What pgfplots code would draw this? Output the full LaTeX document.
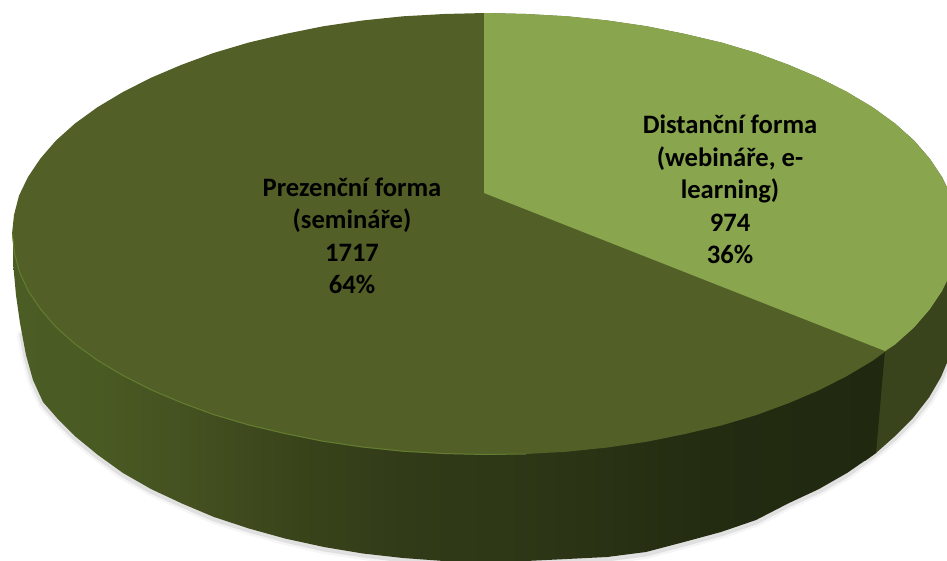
\documentclass[border=0pt]{standalone}
\usepackage{pgfplots}
\pgfplotsset{compat=1.18}
\usepackage{fontspec}
\setmainfont{Carlito}
\definecolor{topdark}{HTML}{526027}
\definecolor{toplight}{HTML}{89A54E}
\definecolor{sideright}{HTML}{3A441C}
\definecolor{edgehi}{HTML}{6C8A35}
\pgfdeclarehorizontalshading{sideshade}{100bp}{
 rgb(0bp)=(0.294,0.361,0.141);
 rgb(25bp)=(0.294,0.361,0.141);
 rgb(30bp)=(0.290,0.353,0.137);
 rgb(35.8bp)=(0.263,0.310,0.125);
 rgb(41.6bp)=(0.220,0.263,0.102);
 rgb(47.4bp)=(0.196,0.231,0.094);
 rgb(53.2bp)=(0.180,0.216,0.086);
 rgb(59bp)=(0.161,0.196,0.078);
 rgb(64.9bp)=(0.137,0.169,0.067);
 rgb(75bp)=(0.125,0.157,0.059);
 rgb(100bp)=(0.125,0.157,0.059)}
\begin{document}
\begin{tikzpicture}
\path[use as bounding box] (0,0) rectangle (947pt,560pt);
\begin{axis}[
  at={(0,0)}, anchor=south west,
  scale only axis, width=947pt, height=560pt,
  xmin=0, xmax=947, ymin=0, ymax=560, y dir=reverse,
  axis lines=none, clip=true, no markers,
  /tikz/every node/.append style={font=\fontsize{26.6}{32.5}\selectfont\bfseries, align=center, text=black}
]
% soft shadow along the outer outline
\addplot[draw=gray, opacity=0.08, line width=10pt, line join=round, line cap=round] coordinates {
(22,335)(26,357)(33,382)(43,404)(57,420)(76,439)(98,457)(123,475)(151,491)(182,505)(214,519)(249,530)(285,540)(324,549)(363,555)(403,560)(444,563)(485,564)(526,563)(567,561)(607,559)(646,554)(684,544)(721,534)(756,522)(788,505)(819,491)(847,475)(872,457)(894,439)(913,420)(929,400)(941,379)(950,357)};
\addplot[draw=gray, opacity=0.18, line width=5pt, line join=round, line cap=round] coordinates {
(22,335)(26,357)(33,382)(43,404)(57,420)(76,439)(98,457)(123,475)(151,491)(182,505)(214,519)(249,530)(285,540)(324,549)(363,555)(403,560)(444,563)(485,564)(526,563)(567,561)(607,559)(646,554)(684,544)(721,534)(756,522)(788,505)(819,491)(847,475)(872,457)(894,439)(913,420)(929,400)(941,379)(950,357)};
% side of the small slice (drawn first, runs under the large slice's edge)
\addplot[draw=none, fill=sideright] coordinates {
(870,350)(865,461)(876,453)(894,437)(913,418)(929,397.5)(941,377)(950,355.5)(956,300)(958,234)(870,350)};
% side of the large slice
\addplot[draw=none, shade, shading=sideshade] coordinates {
(13,234)(13,262)(16,295)(20,323)(26,355)(33,380)(43,402)(57,418)(76,437)(98,455)(123,473)(151,489)(182,503.5)(214,517)(249,528.5)(285,538.5)(324,547)(363,553.5)(403,558)(444,561)(485,562)(526,561)(567,559)(607,557)(646,552)(684,542)(721,532)(756,520)(788,503.5)(819,489)(847,473)(876,453)(885,350)(13,234)};
% top face: whole ellipse
\addplot[draw=none, fill=topdark] coordinates {
(958,234)(956,253)(951,272.4)(942,291)(929.5,309.6)(914,327.5)(895,344.5)(872.5,360.8)(847,376)(819.5,390)(789,403)(756.5,415)(721.5,425.4)(685,434)(647,441.7)(607.5,447.5)(567,451.7)(526,454)(485,455)(444,454)(403,451.7)(362.5,447.5)(323,441.7)(285,434)(248.5,425.4)(213.5,415)(181,403)(150.5,390)(123,376)(97.5,360.8)(75,344.5)(56,327.5)(40.5,309.6)(28,291)(19,272.4)(14,253)(12,234)(14,215)(19,195.6)(28,177)(40.5,158.4)(56,140.5)(75,123.5)(97.5,107.2)(123,92)(150.5,78)(181,65)(213.5,53)(248.5,42.6)(285,34)(323,26.3)(362.5,20.5)(403,16.3)(444,14)(485,13)(526,14)(567,16.3)(607.5,20.5)(647,26.3)(685,34)(721.5,42.6)(756.5,53)(789,65)(819.5,78)(847,92)(872.5,107.2)(895,123.5)(914,140.5)(929.5,158.4)(942,177)(951,195.6)(956,215)(958,234)};
% top face: small slice
\addplot[draw=none, fill=toplight] coordinates {
(484,193)(484,13)(526,14)(567,16.3)(607.5,20.5)(647,26.3)(685,34)(721.5,42.6)(756.5,53)(789,65)(819.5,78)(847,92)(872.5,107.2)(895,123.5)(914,140.5)(929.5,158.4)(942,177)(951,195.6)(956,215)(958,234)(956,253)(951,272.4)(942,291)(929.5,309.6)(914,327.5)(895,344.5)(885,351)(484,193)};
% light edge of the top face
\addplot[draw=edgehi, line width=1pt, opacity=0.7] coordinates {
(526,454)(485,454.5)(444,453.5)(403,451.2)(362.5,447)(323,441.2)(285,433.5)(248.5,424.9)(213.5,414.5)(181,402.5)(150.5,389.5)(123,375.5)(97.5,360.3)(75,344)(56,327)(40.5,309.1)(28,290.5)(19.5,272)(14.5,253)(12.5,234)};
\node at (axis cs:730,189.5) {Distanční forma\\(webináře, e-\\learning)\\974\\36\%};
\node at (axis cs:352,236) {Prezenční forma\\(semináře)\\1717\\64\%};
\end{axis}
\end{tikzpicture}
\end{document}
